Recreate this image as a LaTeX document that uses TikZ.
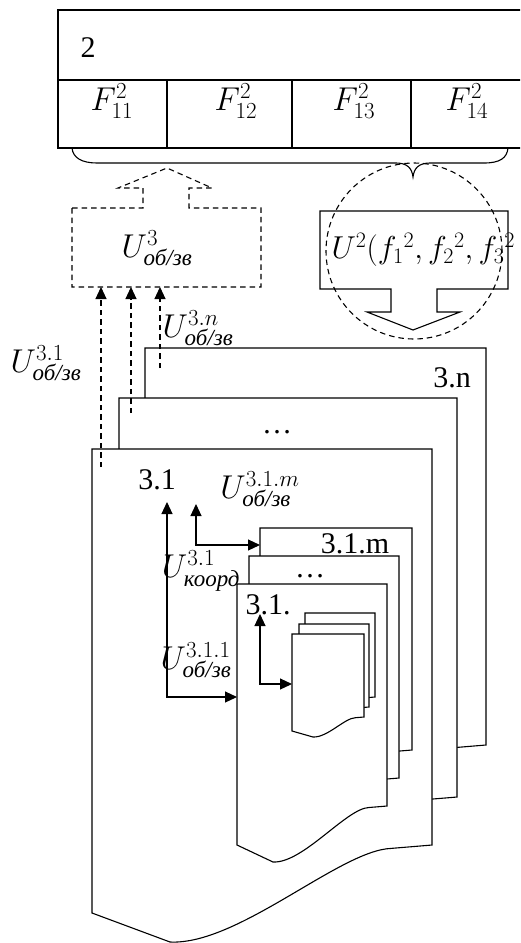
\RequirePackage{fix-cm}
\documentclass[tikz,border=0pt]{standalone}
\usepackage{amsmath}
\usepackage{graphicx}
\usepackage{fontspec}
\setmainfont{Liberation Serif}
\DeclareMathSizes{30}{33}{23}{17}
\usetikzlibrary{arrows.meta}
\newcommand\docpg[7]{% L T R yR yL xm ym
  \draw[pg] (#1,#2) -- (#3,#2) -- (#3,#4)
    -- ({#3-0.12*(#3-#1)},{#4+0.01*(#3-#1)})
    .. controls ({#3-0.27*(#3-#1)},{#4+0.015*(#3-#1)}) and ({#6+0.2*(#3-#1)},{#7+0.01*(#3-#1)}) .. (#6,#7)
    -- (#1,#5) -- cycle;}
\newcommand\ozv{\text{\itshape об/зв}}
\begin{document}
\begin{tikzpicture}[x=1pt,y=-1pt,line width=1.1pt,
  every node/.style={font=\fontsize{30}{34}\selectfont, inner sep=0pt},
  dsh/.style={dash pattern=on 5.5pt off 4pt},
  tri/.style={-{Triangle[length=12pt,width=11pt]}},
  bi/.style={{Triangle[length=12pt,width=11pt]}-{Triangle[length=12pt,width=11pt]}},
  pg/.style={draw, fill=white}]
\useasboundingbox (0,0) rectangle (520,943);
\clip (0,0) rectangle (520,943);
% top box
\draw (58,10) rectangle (530,148);
\draw (58,80) -- (530,80);
\draw (167,80) -- (167,148) (292,80) -- (292,148) (411,80) -- (411,148);
\node (t2) at (88,48) {2};
\node (f11) at (112,101) {$F^{2}_{11}$};
\node (f12) at (236,101) {$F^{2}_{12}$};
\node (f13) at (354,101) {$F^{2}_{13}$};
\node (f14) at (467,101) {$F^{2}_{14}$};
% brace
\draw (72,148) .. controls (73,158) and (82,163) .. (97,163) -- (396,163)
  .. controls (407,163) and (412,168) .. (413,177)
  .. controls (414,168) and (419,163) .. (430,163) -- (484,163)
  .. controls (500,163) and (507,158) .. (508,148);
% dashed block up-arrow
\draw[dsh] (72,208) -- (143,208) -- (143,188) -- (118,188) -- (167,168) -- (212,188)
  -- (189,188) -- (189,208) -- (261,208) -- (261,287) -- (72,287) -- cycle;
\node (u3) at (157,248) {$U^{3}_{\ozv}$};
% U2 block down-arrow
\draw (320,211) -- (508,211) -- (508,289) -- (437,289) -- (437,312) -- (460,312)
  -- (413,330) -- (367,312) -- (391,312) -- (391,289) -- (320,289) -- cycle;
\node[anchor=west] (u2) at (331,250) {\scalebox{0.96}{$U^{2}(f_1{}^{2},f_2{}^{2},f_3{}^{2}$}};
\draw[dsh] (414,251) circle[radius=88pt];
% big pages
\docpg{145}{348}{486}{745}{813}{223}{842}
\docpg{119}{398}{457}{797}{865}{197}{894}
\docpg{92}{449}{432}{845}{913}{170}{942}
\node (p3n) at (452,378) {3.n};
\node (pdots) at (277,432) {…};
\node (p31) at (157,480) {3.1};
% dashed arrows to U3
\coordinate (d1s) at (101,467); \coordinate (d1e) at (101,287);
\coordinate (d2s) at (131,413); \coordinate (d2e) at (131,287);
\coordinate (d3s) at (160,368); \coordinate (d3e) at (160,287);
\draw[dsh,tri] (d1s) -- (d1e);
\draw[dsh,tri] (d2s) -- (d2e);
\draw[dsh,tri] (d3s) -- (d3e);
\node (l31) at (46,363) {$U^{3.1}_{\ozv}$};
\node (l3n) at (198,328) {$U^{3.n}_{\ozv}$};
% inner pages
\docpg{260}{528}{412}{750}{789}{296}{806}
\docpg{249}{556}{399}{778}{817}{285}{834}
\docpg{237}{584}{387}{806}{845}{273}{862}
\node (p31m) at (355,544) {3.1.m};
\node (pidots) at (310,576) {…};
\node (p31d) at (268,605) {3.1.};
% small pages
\docpg{305}{613}{375}{697}{711}{326}{717}
\docpg{299}{624}{369}{707}{721}{320}{727}
\docpg{292}{634}{364}{717}{731}{313}{737}
% labels
\node (l31m) at (260,489) {$U^{3.1.m}_{\ozv}$};
\node (lk) at (201,571) {$U^{3.1}_{\text{\itshape коорд}}$};
\node (l311) at (196,660) {$U^{3.1.1}_{\ozv}$};
% elbow connectors
\coordinate (e1a) at (167,502); \coordinate (e1b) at (237,697);
\coordinate (e2a) at (196,504); \coordinate (e2b) at (260,545);
\coordinate (e3a) at (260,614); \coordinate (e3b) at (292,684);
\draw[bi] (e1a) |- (e1b);
\draw[bi] (e2a) |- (e2b);
\draw[bi] (e3a) |- (e3b);
\end{tikzpicture}
\end{document}
